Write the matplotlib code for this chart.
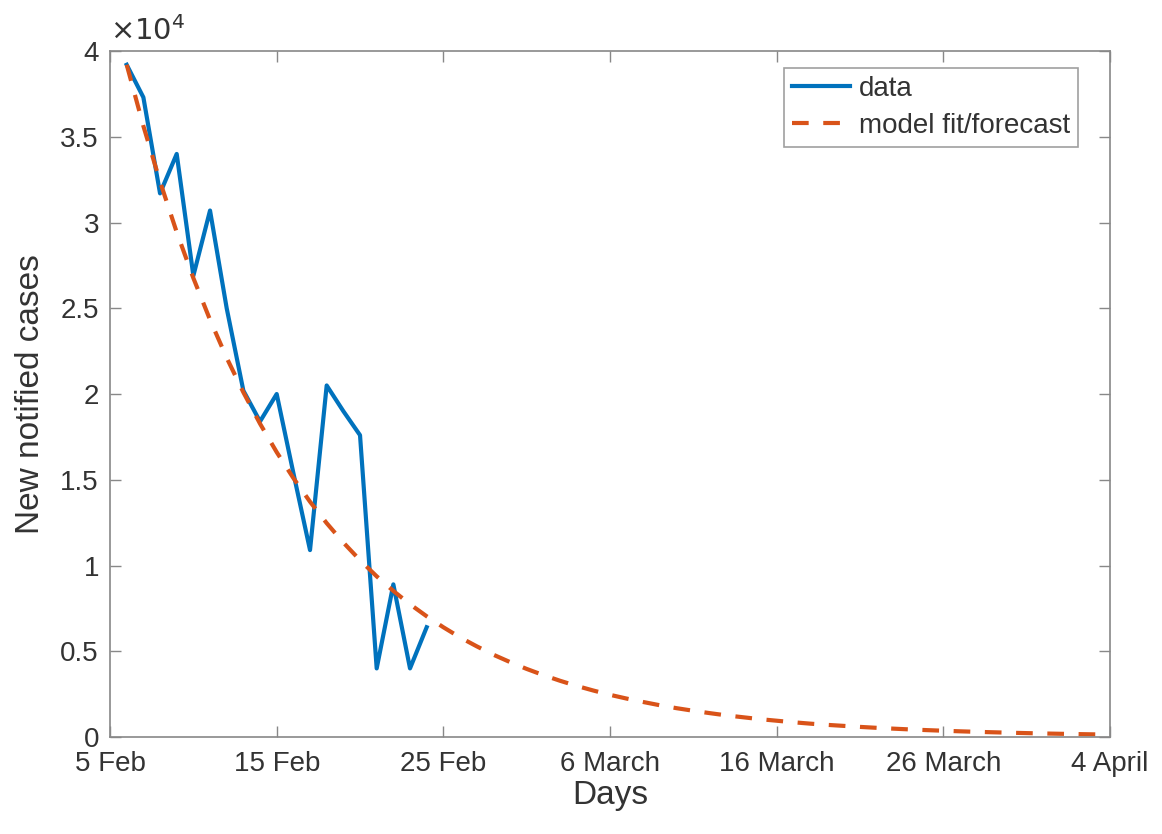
import matplotlib as mplt
mplt.use("Agg")
import matplotlib.pyplot as plt
from matplotlib.ticker import FuncFormatter

plt.rcParams["font.family"] = ["Liberation Sans", "DejaVu Sans"]

# days since 5 Feb (day 0)
data_days = list(range(1, 20))
data_cases = [39200, 37300, 31700, 34000, 26900, 30700, 25000, 20200, 18400,
              20000, 15400, 10900, 20500, 19000, 17600, 4000, 8900, 4000, 6400]

model_days = list(range(1, 61))
model_cases = [39200, 35630, 32390, 29440, 26760, 24330, 22110, 20100, 18270, 16610,
               15100, 13720, 12470, 11340, 10310, 9370, 8520, 7740, 7040, 6400,
               5810, 5290, 4800, 4370, 3970, 3610, 3280, 2980, 2710, 2460,
               2240, 2040, 1850, 1680, 1530, 1390, 1260, 1150, 1040, 950,
               860, 780, 710, 650, 590, 535, 487, 442, 402, 366,
               332, 302, 275, 250, 227, 206, 188, 171, 155, 141]

tick_days = [0, 10, 20, 30, 40, 50, 60]
tick_labels = ["5 Feb", "15 Feb", "25 Feb", "6 March", "16 March", "26 March", "4 April"]

fig = plt.figure(figsize=(11.62, 8.34), dpi=100)
ax = fig.add_axes([0.0947, 0.1163, 0.8605, 0.8225])

ax.plot(data_days, data_cases, color="#0072BD", linewidth=3, label="data")
ax.plot(model_days, model_cases, color="#D95319", linewidth=3,
        linestyle=(0, (4, 3.5)), label="model fit/forecast")

ax.set_xlim(0, 60)
ax.set_ylim(0, 40000)
ax.set_xticks(tick_days)
ax.set_xticklabels(tick_labels)
ax.set_yticks([0, 5000, 10000, 15000, 20000, 25000, 30000, 35000, 40000])
# labels in units of 10^4, like matlab
ax.yaxis.set_major_formatter(FuncFormatter(lambda v, p: "%g" % (v / 1e4)))
ax.text(0.0, 1.008, r"$\times10^4$", transform=ax.transAxes, fontsize=21,
        color="#333333", ha="left", va="bottom")

ax.tick_params(axis="both", direction="in", length=8, width=1, colors="#888888",
               labelcolor="#333333", labelsize=20, top=True, right=True)
ax.tick_params(axis="x", pad=10)
ax.tick_params(axis="y", pad=8)
for s in ax.spines.values():
    s.set_color("#888888")
    s.set_linewidth(1.2)

ax.set_xlabel("Days", fontsize=24, color="#333333", labelpad=2)
ax.set_ylabel("New notified cases", fontsize=24, color="#333333", labelpad=10)

leg = ax.legend(loc="upper right", fontsize=20, handlelength=2.1, handletextpad=0.3,
                borderpad=0.3, labelspacing=0.4, fancybox=False,
                bbox_to_anchor=(0.982, 0.996))
leg.get_frame().set_edgecolor("#888888")
leg.get_frame().set_linewidth(1.2)
for t in leg.get_texts():
    t.set_color("#333333")

fig.savefig("out.png", dpi=100)
